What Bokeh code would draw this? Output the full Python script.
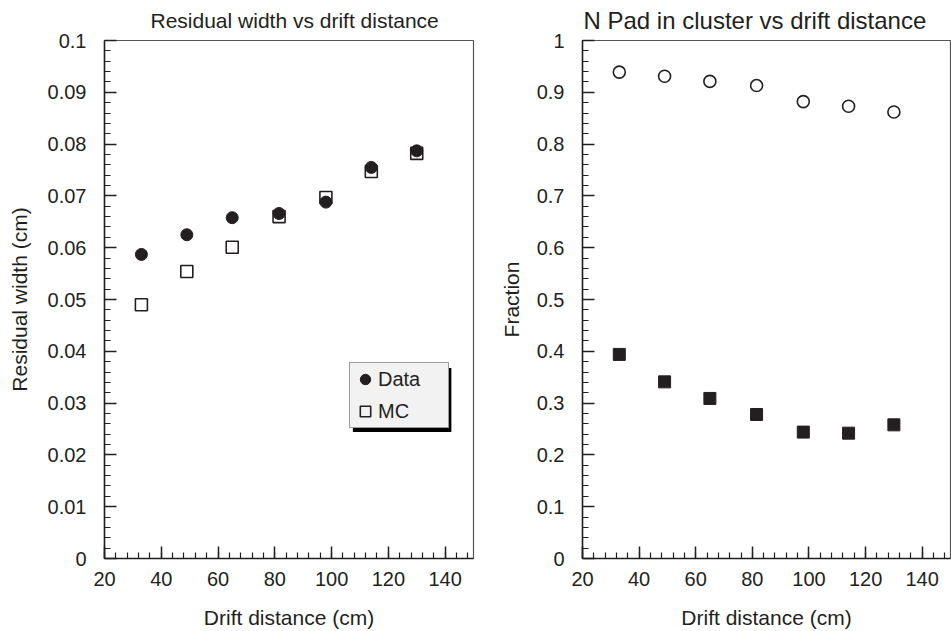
import numpy as np
from bokeh.plotting import figure
from bokeh.models import FixedTicker, Legend, LegendItem, BoxAnnotation, Range1d, PrintfTickFormatter
from bokeh.layouts import row
from bokeh.embed import file_html
from bokeh.resources import INLINE

# ---- data ----
drift = [33, 49, 65, 81.5, 98, 114, 130]
res_data = [0.0587, 0.0625, 0.0658, 0.0666, 0.0688, 0.0755, 0.0787]
res_mc = [0.0490, 0.0554, 0.0601, 0.0660, 0.0697, 0.0747, 0.0782]
frac_open = [0.939, 0.931, 0.921, 0.913, 0.882, 0.873, 0.862]
frac_filled = [0.394, 0.341, 0.309, 0.278, 0.244, 0.242, 0.258]

x_ticks = [20, 40, 60, 80, 100, 120, 140]
x_tick_labels = ["20", "40", "60", "80", "100", "120", "140"]
res_ticks = [0, 0.01, 0.02, 0.03, 0.04, 0.05, 0.06, 0.07, 0.08, 0.09, 0.1]
res_tick_labels = ["0", "0.01", "0.02", "0.03", "0.04", "0.05", "0.06", "0.07", "0.08", "0.09", "0.1"]
frac_ticks = [0, 0.1, 0.2, 0.3, 0.4, 0.5, 0.6, 0.7, 0.8, 0.9, 1]
frac_tick_labels = ["0", "0.1", "0.2", "0.3", "0.4", "0.5", "0.6", "0.7", "0.8", "0.9", "1"]

left_title = "Residual width vs drift distance"
right_title = "N Pad in cluster vs drift distance"

FONT = "Liberation Sans"
INK = "#231f20"


def style(p, yticks, ylabels, yminor, ylabel, title_size, title_offset, title_standoff):
    p.xaxis.ticker = FixedTicker(ticks=x_ticks, minor_ticks=list(np.arange(20, 150.1, 4)))
    p.xaxis.major_label_overrides = {t: l for t, l in zip(x_ticks, x_tick_labels)}
    p.yaxis.ticker = FixedTicker(ticks=yticks, minor_ticks=yminor)
    p.yaxis.formatter = PrintfTickFormatter(format="%g")
    p.yaxis.major_label_overrides = {t: l for t, l in zip(yticks, ylabels)}
    p.xaxis.axis_label = "Drift distance (cm)"
    p.yaxis.axis_label = ylabel
    for ax in (p.xaxis, p.yaxis):
        ax.axis_line_color = INK
        ax.axis_line_width = 1.5
        ax.major_tick_line_color = INK
        ax.minor_tick_line_color = INK
        ax.major_tick_line_width = 1.5
        ax.minor_tick_line_width = 1.2
        ax.major_tick_in = 12
        ax.major_tick_out = 0
        ax.minor_tick_in = 6
        ax.minor_tick_out = 0
        ax.major_label_text_font = FONT
        ax.major_label_text_font_size = "20px"
        ax.major_label_text_color = INK
        ax.axis_label_text_font = FONT
        ax.axis_label_text_font_size = "21px"
        ax.axis_label_text_font_style = "normal"
        ax.axis_label_text_color = INK
    p.xaxis.major_label_standoff = 13
    p.xaxis.axis_label_standoff = 17
    p.yaxis.major_label_standoff = 18
    p.yaxis.axis_label_standoff = 14
    p.xgrid.visible = False
    p.ygrid.visible = False
    p.outline_line_color = "#555555"
    p.outline_line_width = 1.2
    p.title.text_font = FONT
    p.title.text_font_size = title_size
    p.title.text_font_style = "normal"
    p.title.text_color = INK
    p.title.align = "left"
    p.title.offset = title_offset
    p.title.standoff = title_standoff
    p.title.vertical_align = "top"


# ---- left panel ----
p1 = figure(frame_width=369, frame_height=518, min_border_left=104, min_border_right=10,
            min_border_top=40, min_border_bottom=72,
            x_range=Range1d(20, 150), y_range=Range1d(0, 0.1),
            title=left_title,
            output_backend="svg", toolbar_location=None, background_fill_color="white")
style(p1, res_ticks, res_tick_labels, list(np.arange(0, 0.1001, 0.002)), "Residual width (cm)",
      "21px", 46, 14)

r_mc = p1.scatter(drift, res_mc, marker="square", size=12, fill_color=None,
                  line_color=INK, line_width=1.6)
r_data = p1.scatter(drift, res_data, marker="circle", size=12, fill_color=INK,
                    line_color=INK, line_width=1)

shadow = BoxAnnotation(left=107.5, right=142.2, top=0.0368, bottom=0.0244,
                       fill_color="black", fill_alpha=1.0, line_color=None, level="annotation")
p1.add_layout(shadow)

legend = Legend(items=[LegendItem(label="Data", renderers=[r_data]),
                       LegendItem(label="MC", renderers=[r_mc])],
                location=(245, 130), margin=0, padding=2, spacing=4,
                glyph_width=26, glyph_height=28, label_standoff=-2, label_width=68,
                label_text_font=FONT, label_text_font_size="20px", label_text_color=INK,
                background_fill_color="#f2f2f2", background_fill_alpha=1.0,
                border_line_color="#444444", border_line_width=1.2)
p1.add_layout(legend)

# ---- right panel ----
p2 = figure(frame_width=368, frame_height=518, min_border_left=99, min_border_right=1,
            min_border_top=40, min_border_bottom=72,
            x_range=Range1d(20, 150), y_range=Range1d(0, 1),
            title=right_title,
            output_backend="svg", toolbar_location=None, background_fill_color="white")
style(p2, frac_ticks, frac_tick_labels, list(np.arange(0, 1.001, 0.02)), "Fraction",
      "24px", 1, 10)
p2.yaxis.axis_label_standoff = 11

p2.scatter(drift, frac_open, marker="circle", size=12, fill_color=None,
           line_color=INK, line_width=1.6)
p2.scatter(drift, frac_filled, marker="square", size=12, fill_color=INK,
           line_color=INK, line_width=1)

layout = row(p1, p2)
open("out.html", "w").write(file_html(layout, INLINE))
